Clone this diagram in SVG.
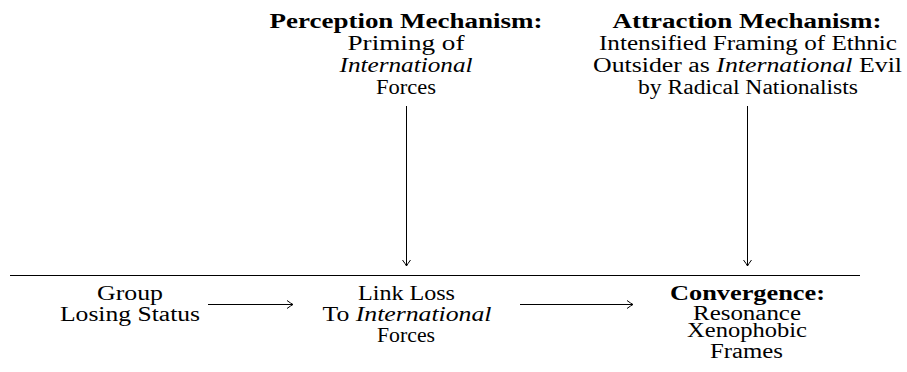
<svg xmlns="http://www.w3.org/2000/svg" width="907" height="372" viewBox="0 0 907 372">
<style>
text { font-family: "Liberation Serif", "Times New Roman", serif; font-size: 20.5px; fill: #000; text-anchor: middle; }
.b { font-weight: bold; }
.i { font-style: italic; }
.ln { stroke: #000; stroke-width: 1; fill: none; }
</style>
<defs>
<marker id="arr" viewBox="-8 -5 10 10" refX="0" refY="0" markerWidth="10" markerHeight="10" markerUnits="userSpaceOnUse" orient="auto">
<path d="M-6,-4 Q-2,-1 0,0 Q-2,1 -6,4" stroke="#000" stroke-width="1" fill="none"/>
</marker>
</defs>
<rect width="907" height="372" fill="#fff"/>
<g id="perception">
<text x="406" y="28" class="b" textLength="273" lengthAdjust="spacingAndGlyphs">Perception Mechanism:</text>
<text x="406" y="50" textLength="117" lengthAdjust="spacingAndGlyphs">Priming of</text>
<text x="406" y="72" class="i" textLength="133" lengthAdjust="spacingAndGlyphs">International</text>
<text x="406" y="94" textLength="60" lengthAdjust="spacingAndGlyphs">Forces</text>
</g>
<g id="attraction">
<text x="747" y="28" class="b" textLength="269" lengthAdjust="spacingAndGlyphs">Attraction Mechanism:</text>
<text x="748" y="50" textLength="298" lengthAdjust="spacingAndGlyphs">Intensified Framing of Ethnic</text>
<text x="747.5" y="72" textLength="309" lengthAdjust="spacingAndGlyphs">Outsider as <tspan class="i">International</tspan> Evil</text>
<text x="748" y="94" textLength="220" lengthAdjust="spacingAndGlyphs">by Radical Nationalists</text>
</g>
<g id="group">
<text x="130" y="300" textLength="66" lengthAdjust="spacingAndGlyphs">Group</text>
<text x="130" y="321" textLength="140" lengthAdjust="spacingAndGlyphs">Losing Status</text>
</g>
<g id="linkloss">
<text x="406.5" y="300" textLength="97" lengthAdjust="spacingAndGlyphs">Link Loss</text>
<text x="407" y="321" textLength="169" lengthAdjust="spacingAndGlyphs">To <tspan class="i">International</tspan></text>
<text x="406" y="342" textLength="58" lengthAdjust="spacingAndGlyphs">Forces</text>
</g>
<g id="convergence">
<text x="747.5" y="300" class="b" textLength="155" lengthAdjust="spacingAndGlyphs">Convergence:</text>
<text x="747" y="320" textLength="108" lengthAdjust="spacingAndGlyphs">Resonance</text>
<text x="747" y="337" textLength="120" lengthAdjust="spacingAndGlyphs">Xenophobic</text>
<text x="746.5" y="358" textLength="73" lengthAdjust="spacingAndGlyphs">Frames</text>
</g>
<g id="connectors">
<line class="ln" x1="10" y1="275.5" x2="860" y2="275.5"/>
<line class="ln" x1="406.5" y1="106" x2="406.5" y2="266" marker-end="url(#arr)"/>
<line class="ln" x1="747.5" y1="106" x2="747.5" y2="266" marker-end="url(#arr)"/>
<line class="ln" x1="208" y1="304.5" x2="293" y2="304.5" marker-end="url(#arr)"/>
<line class="ln" x1="520" y1="304.5" x2="633" y2="304.5" marker-end="url(#arr)"/>
</g>
</svg>
